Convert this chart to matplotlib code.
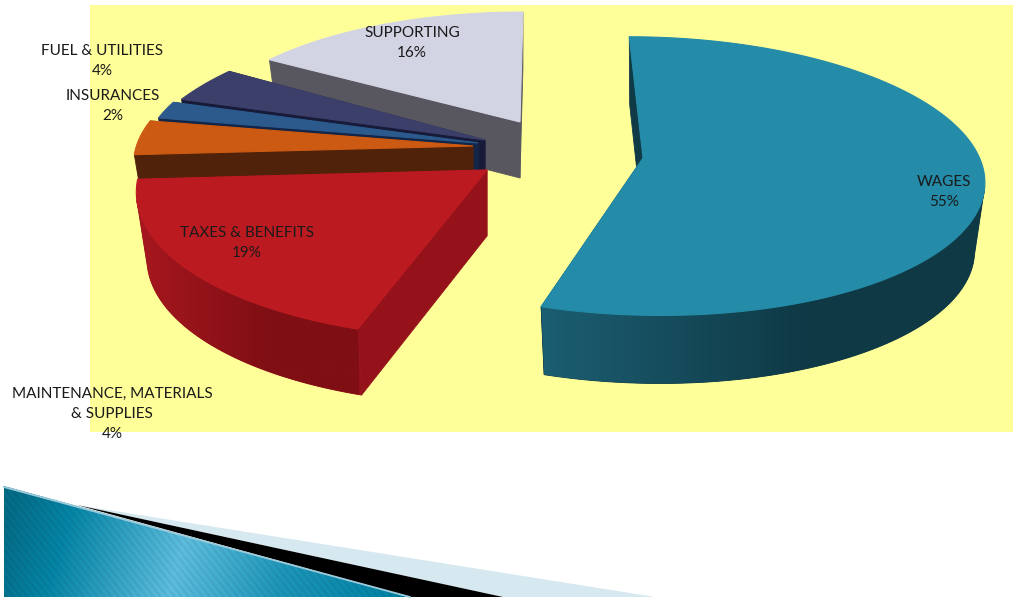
import numpy as np
import matplotlib
matplotlib.use('Agg')
import matplotlib.pyplot as plt
from matplotlib.colors import LinearSegmentedColormap
from matplotlib.patches import Polygon, Rectangle

# slices are listed clockwise from 12 o'clock
categories = ['WAGES', 'TAXES & BENEFITS', 'MAINTENANCE, MATERIALS\n& SUPPLIES',
              'INSURANCES', 'FUEL & UTILITIES', 'SUPPORTING']
shares = [55, 19, 4, 2, 4, 16]

top_colors = ['#248BA8', '#BC1A21', '#CC5A12', '#2C5A8C', '#3D3F6B', '#D2D4E3']
face_colors = ['#103A46', '#95121A', '#51220A', '#12264A', '#171A38', '#58575F']
rim_light = ['#1C5E72', '#A8171F', '#51220A', '#12264A', '#171A38', '#58575F']
rim_dark = ['#0F3945', '#7F0F14', '#51220A', '#12264A', '#171A38', '#58575F']

# exploded position and size of each slice on the page, in pixels
apex_x = [643, 487, 473, 478, 485, 520]
apex_y = [158, 170, 146, 143, 140, 122]
scale_x = [0.99, 1.02, 0.99, 0.98, 1.0, 0.94]
scale_y = [1.0, 1.07, 1.0, 1.0, 1.0, 0.907]
shear = [-15.5, 6.5, 0, 0, 25, 3.4]
depth = [68, 66, 60, 60, 60, 56]

label_x = [944, 247, 112, 113, 102, 412]
label_y = [192, 243, 414, 106, 61, 43]

RADIUS_X = 340
RADIUS_Y = 137
PERSPECTIVE = 0.13
BOTTOM_SHRINK = 0.97

WIDTH, HEIGHT = 1013, 599

plt.rcParams['font.family'] = ['Lato', 'DejaVu Sans']

fig = plt.figure(figsize=(WIDTH / 100, HEIGHT / 100), dpi=100)
ax = fig.add_axes([0, 0, 1, 1])
ax.set_xlim(0, WIDTH)
ax.set_ylim(HEIGHT, 0)
ax.axis('off')


def rim(i, angles):
    """Project clockwise angles (degrees from 12 o'clock) on to the slice's top face."""
    a = np.radians(angles)
    x, y = np.sin(a), np.cos(a)
    w = 1 + PERSPECTIVE * y
    dx = (RADIUS_X * scale_x[i] * x + shear[i] * y) / w
    dy = -RADIUS_Y * scale_y[i] * y / w
    return dx, dy


def draw_slice(i, start, stop, z):
    cx, cy, h = apex_x[i], apex_y[i], depth[i]
    angles = np.linspace(start, stop, 180)
    dx, dy = rim(i, angles)
    tx, ty = cx + dx, cy + dy
    bx, by = cx + dx * BOTTOM_SHRINK, cy + dy + h

    # the two cut faces, mostly covered by the top later on
    for j in (0, -1):
        face = [(cx, cy), (tx[j], ty[j]), (bx[j], by[j]), (cx, cy + h)]
        ax.add_patch(Polygon(face, fc=face_colors[i], ec=face_colors[i], lw=0.6, zorder=z))

    # outer wall, only the part facing the viewer, shaded left to right
    front = np.cos(np.radians(angles)) < -0.2
    if front.sum() > 1:
        outline = list(zip(tx[front], ty[front])) + list(zip(bx[front][::-1], by[front][::-1]))
        ax.add_patch(Polygon(outline, fc=face_colors[i], ec=face_colors[i], lw=0.6, zorder=z))
        wall = Polygon(outline, fc='none', ec='none')
        ax.add_patch(wall)
        cmap = LinearSegmentedColormap.from_list('wall', [(0, rim_light[i]), (0.6, rim_dark[i]), (1, rim_dark[i])])
        shade = np.linspace(0, 1, 256)[None, :]
        im = ax.imshow(shade, cmap=cmap, vmin=0, vmax=1, aspect='auto', zorder=z + 1,
                       extent=(tx.min() - 1, tx.max() + 1, by.max() + 1, ty.min() - 1))
        im.set_clip_path(wall)

    top = [(cx, cy)] + list(zip(tx, ty))
    ax.add_patch(Polygon(top, fc=top_colors[i], ec=top_colors[i], lw=0.8, zorder=z + 2))


def draw_banner():
    # pale and black wedges behind the teal one along the bottom of the slide
    ax.add_patch(Polygon([(77, 505), (655, 597), (503, 597)], fc='#D6E8F0', ec='none', zorder=80))
    ax.add_patch(Polygon([(77, 505), (503, 597), (410, 597)], fc='black', ec='none', zorder=81))

    teal = Polygon([(4, 486), (410, 597), (4, 597)], fc='none', ec='none')
    ax.add_patch(teal)
    xx, yy = np.meshgrid(np.arange(0, 420), np.arange(480, 598))
    u = (xx + 0.3 * (yy - 540)) / 410
    stops = [(0.0, '#046A85'), (0.15, '#0582A2'), (0.45, '#5BB9D9'), (0.72, '#1C92B4'), (1.0, '#007F9F')]
    cmap = LinearSegmentedColormap.from_list('teal', stops)
    rgb = cmap(np.clip(u, 0, 1))[:, :, :3]
    # faint diagonal hatching on the wedge
    rgb = np.clip(rgb * (1 + 0.035 * np.sin((xx - 0.8 * yy) * 2 * np.pi / 7))[:, :, None], 0, 1)
    im = ax.imshow(rgb, extent=(0, 420, 598, 480), aspect='auto', interpolation='bilinear', zorder=82)
    im.set_clip_path(teal)
    ax.plot([4, 410], [487, 597], color='#9CCBDB', lw=1.3, zorder=83)


ax.add_patch(Rectangle((90, 5), 923, 427, fc='#FFFF99', ec='none', zorder=0))

edges = np.cumsum([0] + shares) * 3.6
# painted from the back of the pie forwards
for rank, i in enumerate([5, 4, 3, 2, 1, 0]):
    draw_slice(i, edges[i], edges[i + 1], 10 * (rank + 1))

for i, name in enumerate(categories):
    ax.text(label_x[i], label_y[i], f'{name}\n{shares[i]}%', ha='center', va='center',
            fontsize=11, color='#1A1A1A', linespacing=1.52, zorder=90)

draw_banner()

ax.set_xlim(0, WIDTH)
ax.set_ylim(HEIGHT, 0)
fig.savefig('out.png', dpi=100)
